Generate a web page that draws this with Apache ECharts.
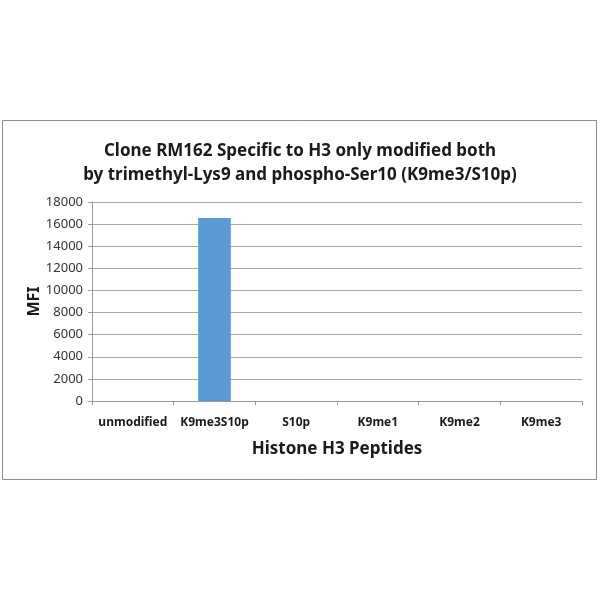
<!DOCTYPE html>
<html>
<head>
<meta charset="utf-8">
<script src="https://cdn.jsdelivr.net/npm/echarts@6/dist/echarts.min.js"></script>
<style>
  html, body {margin: 0; padding: 0; background: #fff;}
  #chart {width: 600px; height: 600px;}
</style>
</head>
<body>
<div id="chart"></div>
<script>
// peptides on the x axis
const categories = ['unmodified', 'K9me3S10p', 'S10p', 'K9me1', 'K9me2', 'K9me3']
// MFI
const mfi = [0, 16550, 0, 0, 0, 0]
const yMin = 0
const yMax = 18000
const yStep = 2000

const font = 'Noto Sans'
const chart = echarts.init(document.getElementById('chart'))

const option = {
  animation: false,
  backgroundColor: '#fff',
  graphic: [
    {
      type: 'rect',
      shape: {x: 2.5, y: 120.5, width: 594, height: 359},
      style: {fill: 'none', stroke: '#8c8c8c', lineWidth: 1},
      silent: true,
    },
  ],
  title: {
    text: 'Clone RM162 Specific to H3 only modified both\nby trimethyl-Lys9 and phospho-Ser10 (K9me3/S10p)',
    left: 'center',
    top: 134,
    textStyle: {
      fontFamily: font,
      fontSize: 17,
      fontWeight: 'bold',
      color: '#1a1a1a',
      lineHeight: 24,
    },
  },
  grid: {left: 92, right: 18, top: 202, bottom: 199},
  xAxis: {
    type: 'category',
    data: categories,
    name: 'Histone H3 Peptides',
    nameLocation: 'middle',
    nameGap: 40,
    nameTextStyle: {fontFamily: font, fontSize: 17, fontWeight: 'bold', color: '#1a1a1a'},
    axisLine: {lineStyle: {color: '#9a9a9a'}},
    axisTick: {show: true, length: 4, lineStyle: {color: '#9a9a9a'}},
    axisLabel: {interval: 0, fontFamily: font, fontSize: 12, fontWeight: 'bold', color: '#1a1a1a', margin: 16},
  },
  yAxis: {
    type: 'value',
    min: yMin,
    max: yMax,
    interval: yStep,
    name: 'MFI',
    nameLocation: 'middle',
    nameGap: 50,
    nameMoveOverlap: false,
    nameTextStyle: {fontFamily: font, fontSize: 16, fontWeight: 'bold', color: '#1a1a1a'},
    axisLine: {show: true, lineStyle: {color: '#9a9a9a'}},
    axisTick: {show: true, length: 4, lineStyle: {color: '#9a9a9a'}},
    axisLabel: {fontFamily: font, fontSize: 13, color: '#333', margin: 9, formatter: v => String(v)},
    splitLine: {lineStyle: {color: '#a6a6a6'}},
  },
  series: [
    {
      type: 'bar',
      data: mfi,
      barWidth: '40%',
      itemStyle: {color: '#5b9bd5'},
    },
  ],
}

chart.setOption(option)
</script>
</body>
</html>
